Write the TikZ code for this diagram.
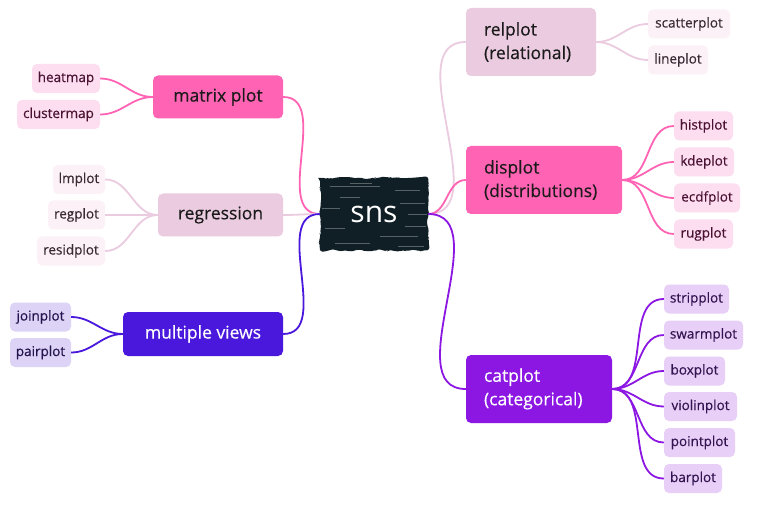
\documentclass[tikz,border=0pt]{standalone}
\usepackage{fontspec}
\setmainfont{Open Sans}
\newfontfamily\medfont{Open Sans}[FakeBold=0.35]
\usetikzlibrary{decorations.pathmorphing}
\definecolor{hotpink}{HTML}{FF63B4}
\definecolor{mauve}{HTML}{EBCBE0}
\definecolor{indigo}{HTML}{4A17DC}
\definecolor{violet}{HTML}{8C17E3}
\definecolor{snsblack}{HTML}{0F1F25}
\definecolor{leafpink}{HTML}{FDDDF0}
\definecolor{leafpale}{HTML}{FBF1F7}
\definecolor{leafindigo}{HTML}{DCD3F7}
\definecolor{leafviolet}{HTML}{E8CFF8}
\definecolor{txtpink}{HTML}{4A1232}
\definecolor{txtpale}{HTML}{3A2A34}
\definecolor{txtindigo}{HTML}{24144E}
\definecolor{txtviolet}{HTML}{341450}
\definecolor{txtdark}{HTML}{1A1A1A}
\begin{document}
\begin{tikzpicture}[x=1pt,y=-1pt,
  mainbox/.style={rounded corners=5pt, inner sep=0pt, font=\medfont\fontsize{17.5}{23.5}\selectfont},
  leafbox/.style={rounded corners=5pt, inner sep=0pt, minimum height=29pt, font=\medfont\fontsize{13.5}{16}\selectfont},
  conn/.style={line width=1.8pt},
  ]
\useasboundingbox[fill=white] (0,0) rectangle (763,505);

% ---------- central node ----------
\node[minimum width=108pt, minimum height=72pt, inner sep=0pt] (sns) at (374,214) {};
\fill[snsblack, decorate, decoration={random steps, segment length=4pt, amplitude=1.5pt}, rounded corners=3pt]
  (sns.north west) rectangle (sns.south east);
\foreach \xa/\xb/\yy in {330/380/186, 395/420/190, 340/360/197, 400/425/203, 325/345/228, 380/418/236, 335/370/243, 398/424/246, 350/372/183, 405/426/226, 322/340/208, 408/427/214}
  \draw[white, opacity=.3, line width=.6pt] (\xa,\yy) -- (\xb,\yy);
\node[text=white, font=\fontsize{30}{34}\selectfont] at (sns) {sns};

% ---------- main branches ----------
\node[mainbox, fill=hotpink, text=txtdark, minimum width=130pt, minimum height=43pt] (matrix) at (218,97) {matrix plot};
\node[mainbox, fill=mauve, text=txtdark, minimum width=125pt, minimum height=43pt] (regr) at (220.5,215) {regression};
\node[mainbox, fill=indigo, text=white, minimum width=160pt, minimum height=44pt] (multi) at (203,334) {multiple views};
\node[mainbox, fill=mauve, text=txtdark, minimum width=130pt, minimum height=68pt, text width=94pt, align=left] (rel) at (531,42) {relplot\\(relational)};
\node[mainbox, fill=hotpink, text=txtdark, minimum width=156pt, minimum height=68pt, text width=120pt, align=left] (dis) at (544,180) {displot\\(distributions)};
\node[mainbox, fill=violet, text=white, minimum width=146pt, minimum height=68pt, text width=110pt, align=left] (cat) at (539,389) {catplot\\(categorical)};

% ---------- leaves ----------
\node[leafbox, fill=leafpink, text=txtpink, minimum width=68pt] (heat) at (66,78.5) {heatmap};
\node[leafbox, fill=leafpink, text=txtpink, minimum width=83pt] (clus) at (58.5,114.5) {clustermap};

\node[leafbox, fill=leafpale, text=txtpale, minimum width=52pt] (lm) at (79,179.5) {lmplot};
\node[leafbox, fill=leafpale, text=txtpale, minimum width=57pt] (reg) at (76.5,215) {regplot};
\node[leafbox, fill=leafpale, text=txtpale, minimum width=68pt] (resid) at (71,251) {residplot};

\node[leafbox, fill=leafindigo, text=txtindigo, minimum width=61pt] (join) at (40.5,317) {joinplot};
\node[leafbox, fill=leafindigo, text=txtindigo, minimum width=61pt] (pair) at (40.5,352.5) {pairplot};

\node[leafbox, fill=leafpale, text=txtpale, minimum width=82pt] (scat) at (689,24) {scatterplot};
\node[leafbox, fill=leafpale, text=txtpale, minimum width=60pt] (line) at (678,60) {lineplot};

\node[leafbox, fill=leafpink, text=txtpink, minimum width=59pt] (hist) at (703.5,126) {histplot};
\node[leafbox, fill=leafpink, text=txtpink, minimum width=60pt] (kde) at (704,162) {kdeplot};
\node[leafbox, fill=leafpink, text=txtpink, minimum width=66pt] (ecdf) at (707,198) {ecdfplot};
\node[leafbox, fill=leafpink, text=txtpink, minimum width=59pt] (rug) at (703.5,234) {rugplot};

\node[leafbox, fill=leafviolet, text=txtviolet, minimum width=65pt] (strip) at (696.5,299) {stripplot};
\node[leafbox, fill=leafviolet, text=txtviolet, minimum width=79pt] (swarm) at (703.5,335) {swarmplot};
\node[leafbox, fill=leafviolet, text=txtviolet, minimum width=61pt] (box) at (694.5,371) {boxplot};
\node[leafbox, fill=leafviolet, text=txtviolet, minimum width=73pt] (violin) at (700.5,406.5) {violinplot};
\node[leafbox, fill=leafviolet, text=txtviolet, minimum width=71pt] (point) at (699.5,442.5) {pointplot};
\node[leafbox, fill=leafviolet, text=txtviolet, minimum width=58pt] (bar) at (693,478.5) {barplot};

% ---------- connectors ----------
\draw[conn, hotpink] (sns.west) to[out=180,in=0] (matrix.east);
\draw[conn, mauve] (sns.west) to[out=180,in=0] (regr.east);
\draw[conn, indigo] (sns.west) to[out=180,in=0] (multi.east);
\draw[conn, mauve] (sns.east) to[out=0,in=180] (rel.west);
\draw[conn, hotpink] (sns.east) to[out=0,in=180] (dis.west);
\draw[conn, violet] (sns.east) to[out=0,in=180] (cat.west);

\foreach \c in {heat,clus} \draw[conn, hotpink] (matrix.west) to[out=180,in=0] (\c.east);
\foreach \c in {lm,reg,resid} \draw[conn, mauve] (regr.west) to[out=180,in=0] (\c.east);
\foreach \c in {join,pair} \draw[conn, indigo] (multi.west) to[out=180,in=0] (\c.east);
\foreach \c in {scat,line} \draw[conn, mauve] (rel.east) to[out=0,in=180] (\c.west);
\foreach \c in {hist,kde,ecdf,rug} \draw[conn, hotpink] (dis.east) to[out=0,in=180] (\c.west);
\foreach \c in {strip,swarm,box,violin,point,bar} \draw[conn, violet] (cat.east) to[out=0,in=180] (\c.west);
\end{tikzpicture}
\end{document}
